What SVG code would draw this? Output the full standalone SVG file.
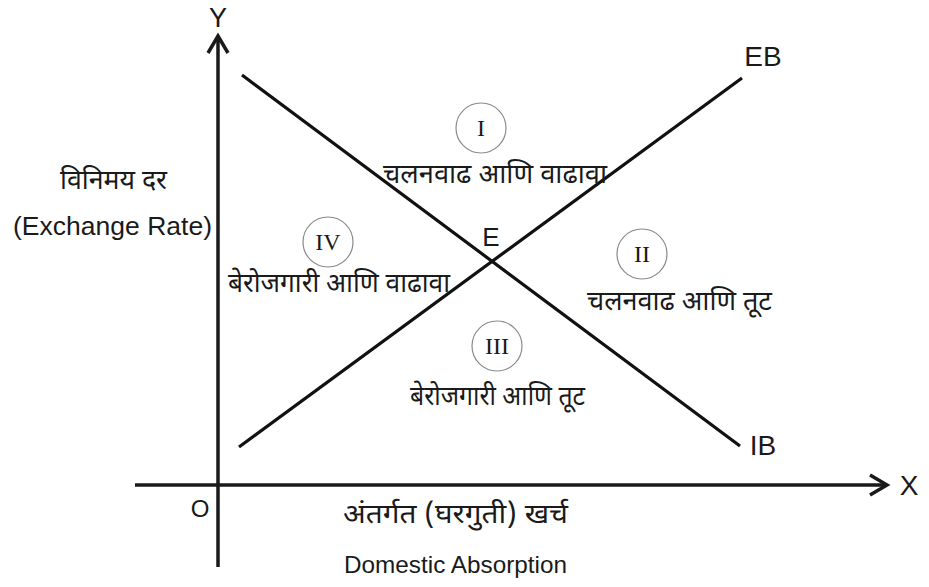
<svg xmlns="http://www.w3.org/2000/svg" width="929" height="587" viewBox="0 0 929 587">
<style>
.axis{stroke:#1a1a1a;stroke-width:3.5;fill:none;stroke-linecap:butt}
.curve{stroke:#111;stroke-width:3.2;fill:none}
.lat{font-family:'Liberation Sans',Arial,sans-serif;fill:#1a1a1a}
.dev{font-family:'Noto Sans Devanagari','Noto Sans','Liberation Sans',sans-serif;fill:#1a1a1a;font-size:27px}
.ring{fill:#fff;stroke:#8a8a8a;stroke-width:1.2}
.rom{font-family:'Liberation Serif','Times New Roman',serif;font-size:24px;fill:#1a1a1a;text-anchor:middle}
</style>
<rect width="929" height="587" fill="#fff"/>
<g id="axes">
<line class="axis" x1="218" y1="37" x2="218" y2="567"/>
<polyline class="axis" points="208,53 218,36 228,53"/>
<line class="axis" x1="135" y1="485" x2="886" y2="485"/>
<polyline class="axis" points="870,475 887,485 870,495"/>
<text class="lat" x="218" y="27" font-size="27" text-anchor="middle">Y</text>
<text class="lat" x="909" y="495" font-size="28" text-anchor="middle">X</text>
<text class="lat" x="200" y="517" font-size="24" text-anchor="middle">O</text>
</g>
<g id="connectors">
<line id="EB-line" class="curve" x1="239" y1="447" x2="742" y2="78"/>
<line id="IB-line" class="curve" x1="242" y1="75" x2="740" y2="446"/>
</g>
<g id="EB"><text class="lat" x="763" y="66" font-size="28" text-anchor="middle">EB</text></g>
<g id="IB"><text class="lat" x="763" y="455" font-size="28" text-anchor="middle">IB</text></g>
<g id="E"><text class="lat" x="491" y="246" font-size="26" text-anchor="middle">E</text></g>
<g id="y-label">
<text class="dev" x="60" y="189" textLength="107" lengthAdjust="spacingAndGlyphs">विनिमय दर</text>
<text class="lat" x="13" y="235" font-size="26" textLength="199" lengthAdjust="spacingAndGlyphs">(Exchange Rate)</text>
</g>
<g id="x-label">
<text class="dev" x="343" y="523" textLength="225" lengthAdjust="spacingAndGlyphs">अंतर्गत (घरगुती) खर्च</text>
<text class="lat" x="344" y="573" font-size="24.5" textLength="223" lengthAdjust="spacingAndGlyphs">Domestic Absorption</text>
</g>
<g id="region-I">
<circle class="ring" cx="481" cy="128" r="25"/>
<text class="rom" x="481" y="136">I</text>
<text class="dev" x="383" y="183" textLength="224" lengthAdjust="spacingAndGlyphs">चलनवाढ आणि वाढावा</text>
</g>
<g id="region-II">
<circle class="ring" cx="642" cy="254" r="25"/>
<text class="rom" x="642" y="262">II</text>
<text class="dev" x="587" y="310" textLength="185" lengthAdjust="spacingAndGlyphs">चलनवाढ आणि तूट</text>
</g>
<g id="region-III">
<circle class="ring" cx="497" cy="346" r="25"/>
<text class="rom" x="497" y="354">III</text>
<text class="dev" x="410" y="405" textLength="175" lengthAdjust="spacingAndGlyphs">बेरोजगारी आणि तूट</text>
</g>
<g id="region-IV">
<circle class="ring" cx="328" cy="242" r="25"/>
<text class="rom" x="328" y="250">IV</text>
<text class="dev" x="228" y="292" textLength="222" lengthAdjust="spacingAndGlyphs">बेरोजगारी आणि वाढावा</text>
</g>
</svg>
